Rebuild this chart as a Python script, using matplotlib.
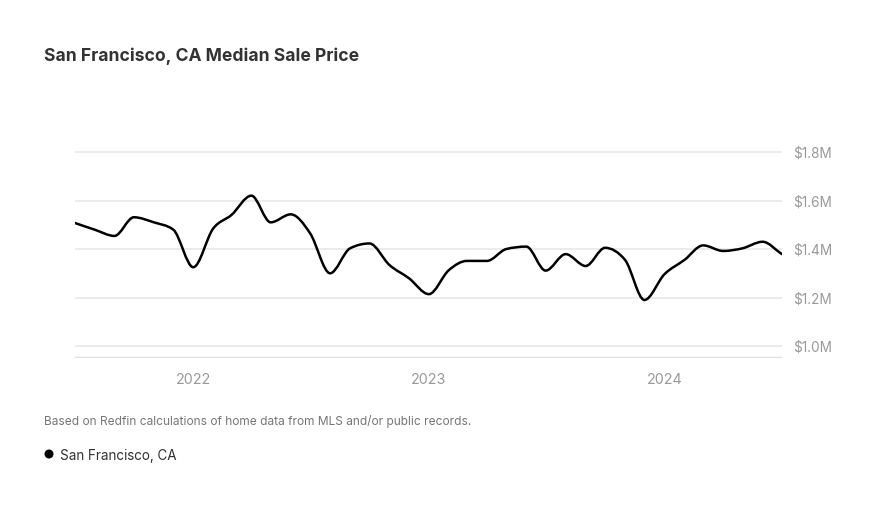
import datetime as dt
import numpy as np
import matplotlib
matplotlib.use("Agg")
import matplotlib.pyplot as plt
import matplotlib.dates as mdates
from matplotlib.path import Path
from matplotlib.patches import PathPatch
from matplotlib.ticker import FuncFormatter

# Monthly median sale price, Jul 2021 - Jul 2024 (millions USD)
months = [dt.date(2021 + (6 + i) // 12, (6 + i) % 12 + 1, 1) for i in range(37)]
prices = [1.508, 1.480, 1.454, 1.531, 1.510, 1.480, 1.325, 1.485, 1.540, 1.620,
          1.510, 1.543, 1.465, 1.300, 1.403, 1.423, 1.334, 1.280, 1.214, 1.313,
          1.351, 1.351, 1.400, 1.410, 1.311, 1.379, 1.330, 1.405, 1.355, 1.190,
          1.296, 1.355, 1.415, 1.392, 1.403, 1.430, 1.379]
y_ticks = [1.0, 1.2, 1.4, 1.6, 1.8]
x_ticks = [dt.date(2022, 1, 1), dt.date(2023, 1, 1), dt.date(2024, 1, 1)]

title = "San Francisco, CA Median Sale Price"
note = "Based on Redfin calculations of home data from MLS and/or public records."
series_name = "San Francisco, CA"

plt.rcParams['font.family'] = ['Inter', 'DejaVu Sans']


def monotone_path(x, y):
    """Build a monotone-cubic bezier path through the points (like d3 curveMonotoneX)."""
    x = np.asarray(x, dtype=float)
    y = np.asarray(y, dtype=float)
    h = np.diff(x)
    s = np.diff(y) / h
    t = np.zeros_like(y)
    for i in range(1, len(y) - 1):
        if s[i - 1] * s[i] <= 0:
            t[i] = 0.0
        else:
            p = (s[i - 1] * h[i] + s[i] * h[i - 1]) / (h[i - 1] + h[i])
            t[i] = np.sign(s[i - 1]) * min(abs(s[i - 1]), abs(s[i]), 0.5 * abs(p)) * 2
    t[0] = s[0]
    t[-1] = s[-1]
    verts = [(x[0], y[0])]
    codes = [Path.MOVETO]
    for i in range(len(x) - 1):
        dx = h[i] / 3
        verts += [(x[i] + dx, y[i] + dx * t[i]),
                  (x[i + 1] - dx, y[i + 1] - dx * t[i + 1]),
                  (x[i + 1], y[i + 1])]
        codes += [Path.CURVE4] * 3
    return Path(verts, codes)


fig = plt.figure(figsize=(8.88, 5.09), dpi=100)
ax = fig.add_axes([74.5 / 888, 1 - 357.7 / 509, (781.9 - 74.5) / 888, (357.7 - 147) / 509])

xs = mdates.date2num(months)
ax.add_patch(PathPatch(monotone_path(xs, prices), facecolor='none',
                       edgecolor='black', lw=1.8, capstyle='round', zorder=3))

ax.set_xlim(xs[0], xs[-1])
ax.set_ylim(0.952, 1.8206)

for v in y_ticks:
    ax.axhline(v, color='#e8e8e8', lw=1.2, zorder=1)
ax.axhline(0.952, color='#e0e0e0', lw=2.5, zorder=1)

for sp in ax.spines.values():
    sp.set_visible(False)

ax.yaxis.tick_right()
ax.set_yticks(y_ticks)
ax.yaxis.set_major_formatter(FuncFormatter(lambda v, p: f"${v:.1f}M"))
ax.tick_params(axis='y', length=0, pad=8, labelsize=9.8, labelcolor='#999999')

ax.set_xticks(mdates.date2num(x_ticks))
ax.set_xticklabels([str(d.year) for d in x_ticks])
ax.tick_params(axis='x', length=0, pad=11, labelsize=10.3, labelcolor='#999999')

fig.text(44 / 888, 1 - 56 / 509, title, fontsize=12.6, fontweight='bold',
         color='#333333', va='center', ha='left')
fig.text(44 / 888, 1 - 421.5 / 509, note, fontsize=8.6, color='#777777',
         va='center', ha='left')
fig.patches.append(matplotlib.patches.Circle((49, 509 - 454), 4.5, transform=None,
                                             figure=fig, facecolor='black'))
fig.text(60 / 888, 1 - 456 / 509, series_name, fontsize=9.7, color='#333333',
         va='center', ha='left')

fig.savefig("out.png", dpi=100)
